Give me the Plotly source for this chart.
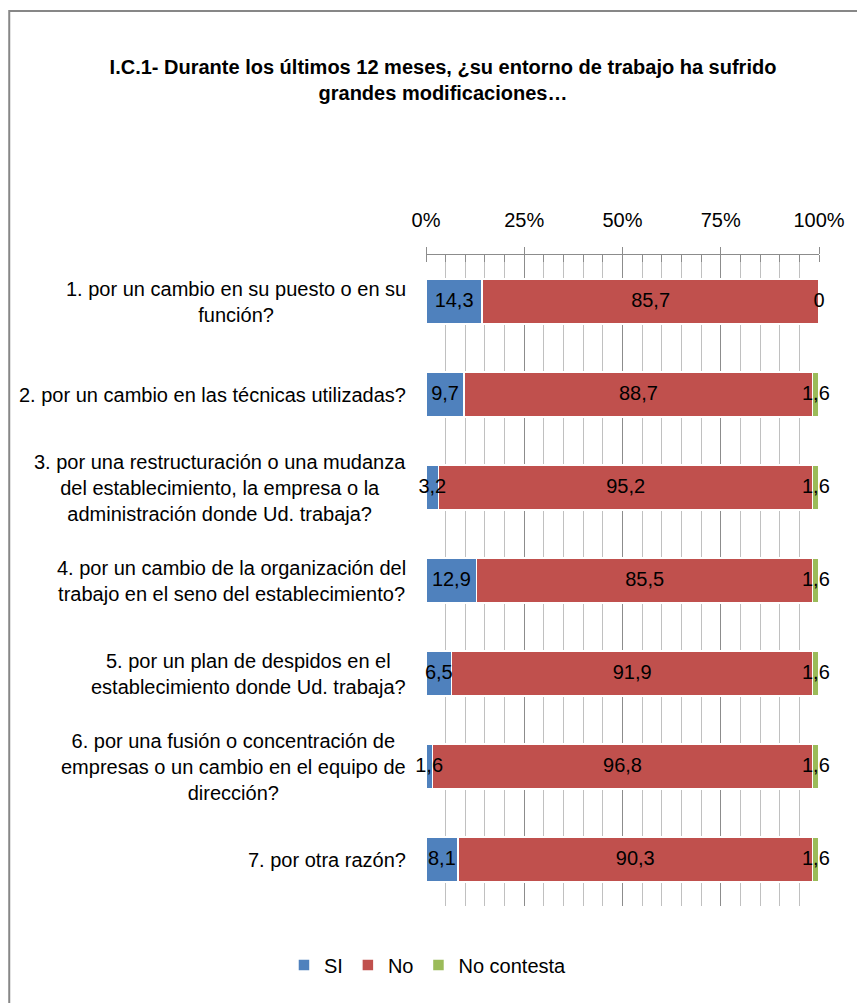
import plotly.graph_objects as go

categories = [
    "1. por un cambio en su puesto o en su<br>función?",
    "2. por un cambio en las técnicas utilizadas?",
    "3. por una restructuración o una mudanza<br>del establecimiento, la empresa o la<br>administración donde Ud. trabaja?",
    "4. por un cambio de la organización del<br>trabajo en el seno del establecimiento?",
    "5. por un plan de despidos en el<br>establecimiento donde Ud. trabaja?",
    "6. por una fusión o concentración de<br>empresas o un cambio en el equipo de<br>dirección?",
    "7. por otra razón?",
]
si = [14.3, 9.7, 3.2, 12.9, 6.5, 1.6, 8.1]
no = [85.7, 88.7, 95.2, 85.5, 91.9, 96.8, 90.3]
nc = [0, 1.6, 1.6, 1.6, 1.6, 1.6, 1.6]
series_names = ["SI", "No", "No contesta"]
series_colors = ["#4F81BD", "#C0504D", "#9BBB59"]
x_ticks = [0, 25, 50, 75, 100]
x_ticklabels = ["0%", "25%", "50%", "75%", "100%"]

FONT = "Liberation Sans, Arial, sans-serif"
W, H = 857, 1003
ML, MR, MT, MB = 426, 34, 255, 97
PW, PH = W - ML - MR, H - MT - MB

fig = go.Figure()
series = [si, no, nc]
for name, vals, col in zip(series_names, series, series_colors):
    fig.add_trace(go.Bar(
        y=list(range(len(categories))), x=vals, name=name, orientation="h",
        marker=dict(color=col, line=dict(color="white", width=1.5)),
        hoverinfo="x+name",
    ))

# data labels at segment centres
base = [0.0] * len(categories)
for vals in series:
    mids = [b + v / 2 for b, v in zip(base, vals)]
    fig.add_trace(go.Scatter(
        x=mids, y=list(range(len(categories))), mode="text",
        text=[f"{v:g}".replace(".", ",") for v in vals],
        textfont=dict(family=FONT, size=20, color="black"),
        showlegend=False, hoverinfo="skip", cliponaxis=False,
    ))
    base = [b + v for b, v in zip(base, vals)]

# category labels as centred multi-line annotations
for i, c in enumerate(categories):
    fig.add_annotation(
        x=0, xref="paper", y=i, yref="y", text=c, showarrow=False,
        xanchor="right", align="center", xshift=-18,
        font=dict(family=FONT, size=20, color="black"),
    )

# outer frame (left and top edges visible)
fig.add_shape(type="rect", xref="paper", yref="paper",
              x0=(5 - ML) / PW, x1=(W + 20 - ML) / PW,
              y0=-(MB + 20) / PH, y1=(H - 11 - MB) / PH,
              line=dict(color="#878787", width=2), fillcolor="rgba(0,0,0,0)")

fig.update_layout(
    width=W, height=H,
    margin=dict(l=ML, r=MR, t=MT, b=MB),
    paper_bgcolor="white", plot_bgcolor="white",
    barmode="stack", bargap=0.516,
    title=dict(
        text="<b>I.C.1- Durante los últimos 12 meses, ¿su entorno de trabajo ha sufrido<br>grandes modificaciones…</b>",
        x=443 / W, xanchor="center", y=1 - 74 / H, yanchor="middle",
        font=dict(family=FONT, size=20, color="black"),
    ),
    xaxis=dict(
        side="top", range=[0, 100], tickvals=x_ticks, ticktext=x_ticklabels,
        showgrid=True, gridcolor="#8c8c8c", gridwidth=1,
        minor=dict(dtick=5, showgrid=True, gridcolor="#c0c0c0", gridwidth=1,
                   ticks="inside", ticklen=7, tickcolor="#8c8c8c"),
        ticks="outside", ticklen=7, tickcolor="#8c8c8c",
        showline=True, linecolor="#8c8c8c", linewidth=1,
        tickfont=dict(family=FONT, size=20, color="black"),
        ticklabelstandoff=12,
        zeroline=False, fixedrange=True,
    ),
    yaxis=dict(
        range=[len(categories) - 0.5, -0.5], showticklabels=False,
        showgrid=False, zeroline=False, fixedrange=True,
    ),
    legend=dict(
        orientation="h", x=(428 - ML) / PW, xanchor="center",
        y=-(965 - (H - MB)) / PH, yanchor="middle",
        font=dict(family=FONT, size=20, color="black"), traceorder="normal",
        itemwidth=30,
    ),
    showlegend=True,
)

fig.write_html("out.html", config={"displayModeBar": False},
               post_script="document.body.style.margin='0';")
